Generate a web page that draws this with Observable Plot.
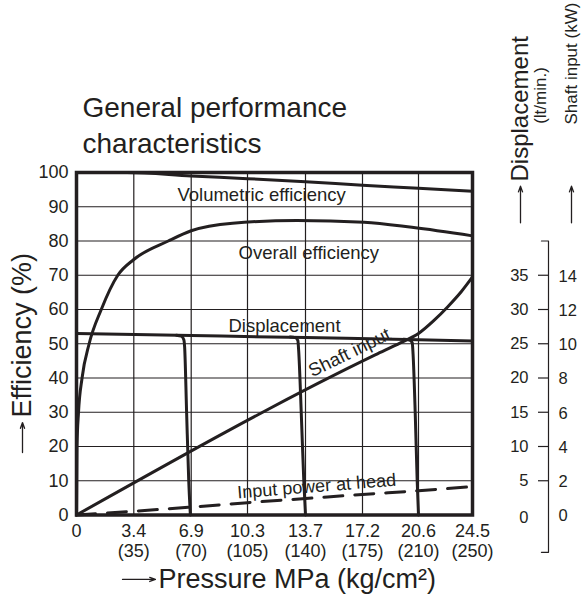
<!DOCTYPE html>
<html>
<head>
<meta charset="utf-8">
<script src="https://cdn.jsdelivr.net/npm/d3@7"></script>
<script src="https://cdn.jsdelivr.net/npm/@observablehq/plot@0.6"></script>
<style>
  html, body { margin: 0; padding: 0; background: #fff; }
  #chart svg { display: block; }
</style>
</head>
<body>
<div id="chart"></div>
<script>
// ---- tick labels ----
const pressureTicks = [0, 3.4, 6.9, 10.3, 13.7, 17.2, 20.6, 24.5];      // MPa
const pressureKgTicks = [0, 35, 70, 105, 140, 175, 210, 250];          // kg/cm²
const efficiencyTicks = [0, 10, 20, 30, 40, 50, 60, 70, 80, 90, 100];  // %
const displacementTicks = [0, 5, 10, 15, 20, 25, 30, 35];              // lt/min
const shaftInputTicks = [0, 2, 4, 6, 8, 10, 12, 14];                   // kW

// ---- series: [pressure MPa, value] ----
const volumetricEff = [[0,100],[3,100],[6.9,99],[10.3,98.2],[13.7,97.3],[17.2,96.3],[20.6,95.4],[24.5,94.5]]; // %
const overallEff = [[0,0],[0.03,20],[0.12,30],[0.33,40],[0.75,50],[1.47,60],[2.45,70],[3.4,74.6],[5.5,80],[6.9,83],[9.4,85.2],[13.2,86],[17.3,85.5],[20.2,84],[24.5,81.5]]; // %
const displacementMain = [[0,26.5],[6.9,26.2],[13.7,25.9],[20.6,25.6],[24.5,25.4]]; // lt/min
const cutoff1 = [[6.0,26.25],[6.3,26.1],[6.45,25.6],[6.5,24.5],[6.62,15],[6.75,5],[6.85,0]]; // lt/min
const cutoff2 = [[12.8,26],[13.1,25.9],[13.25,25.5],[13.3,24],[13.45,15],[13.6,5],[13.7,0]];  // lt/min
const cutoff3 = [[19.7,25.65],[20.05,25.55],[20.22,25.15],[20.27,23.5],[20.4,15],[20.52,5],[20.6,0]]; // lt/min
const shaftInput = [[0,0],[18,9.36],[19.5,10.05],[20.6,10.6],[21.7,11.35],[22.7,12.15],[23.7,13.05],[24.5,13.9]]; // kW
const inputPowerHead = [[0,0],[3.4,0.22],[6.9,0.46],[10.3,0.72],[13.7,0.96],[17.2,1.2],[20.6,1.42],[24.5,1.66]]; // kW

// secondary axes share the efficiency scale: 5 lt/min = 10 %, 2 kW = 10 %
const PCT_PER_LPM = 2;
const PCT_PER_KW = 5;

const ink = "#231f20";
const font = "'Liberation Sans', Arial, Helvetica, sans-serif";
const kgOf = new Map(pressureTicks.map((p, i) => [p, pressureKgTicks[i]]));

const curveOpts = {x: d => d[0], stroke: ink, strokeWidth: 3, curve: "monotone-x"};
const arrowOpts = {stroke: ink, strokeWidth: 1.3, headLength: 7, headAngle: 40};

const chart = Plot.plot({
  width: 583,
  height: 601,
  marginTop: 172,
  marginBottom: 86.5,
  marginLeft: 76,
  marginRight: 111,
  style: {fontFamily: font, color: ink, background: "#fff", overflow: "visible"},
  x: {type: "linear", domain: pressureTicks, range: [76, 133.3, 190.7, 247, 305, 362, 418, 472]},
  y: {domain: [0, 100], range: [514.5, 172]},
  marks: [
    Plot.gridX(pressureTicks.slice(1, -1), {stroke: ink, strokeOpacity: 1, strokeWidth: 1.2}),
    Plot.gridY(efficiencyTicks.slice(1, -1), {stroke: ink, strokeOpacity: 1, strokeWidth: 1.2}),

    // main axes
    Plot.axisX(pressureTicks, {tickSize: 0, tickPadding: 8, fontSize: 18, lineHeight: 1.11, label: null,
      tickFormat: d => d === 0 ? "0" : `${d}\n(${kgOf.get(d)})`}),
    Plot.axisY(efficiencyTicks, {tickSize: 0, tickPadding: 8, fontSize: 18, label: null}),

    // right-hand displacement axis (ticks to the left of the bracket)
    Plot.axisY(displacementTicks.slice(1).map(v => v * PCT_PER_LPM), {anchor: "left", dx: 472, tickSize: 10, tickPadding: 10,
      fontSize: 16.5, strokeWidth: 1.2, label: null, tickFormat: d => d / PCT_PER_LPM}),
    Plot.axisY([displacementTicks[0] * PCT_PER_LPM], {anchor: "left", dx: 472, dy: 3, tickSize: 0, tickPadding: 20,
      fontSize: 16.5, label: null, tickFormat: d => d / PCT_PER_LPM}),
    // right-hand shaft input axis (labels right of the bracket)
    Plot.axisY(shaftInputTicks.map(v => v * PCT_PER_KW), {anchor: "right", dx: 76, dy: 1, tickSize: 0, tickPadding: 10,
      fontSize: 16.5, label: null, tickFormat: d => d / PCT_PER_KW}),
    // bracket of the right-hand scales
    Plot.line([[-0.42, 80], [0, 80], [0, -10.9], [-0.42, -10.9]], {x: d => d[0], y: d => d[1], dx: 472, stroke: ink, strokeWidth: 1.2}),

    Plot.frame({stroke: ink, strokeWidth: 3.5}),

    // curves
    Plot.line(volumetricEff, {...curveOpts, y: d => d[1]}),
    Plot.line(overallEff, {...curveOpts, y: d => d[1]}),
    Plot.line(displacementMain, {...curveOpts, y: d => d[1] * PCT_PER_LPM}),
    Plot.line(cutoff1, {...curveOpts, y: d => d[1] * PCT_PER_LPM}),
    Plot.line(cutoff2, {...curveOpts, y: d => d[1] * PCT_PER_LPM}),
    Plot.line(cutoff3, {...curveOpts, y: d => d[1] * PCT_PER_LPM}),
    Plot.line(shaftInput, {...curveOpts, y: d => d[1] * PCT_PER_KW}),
    Plot.line(inputPowerHead, {...curveOpts, y: d => d[1] * PCT_PER_KW, strokeDasharray: "19,12"}),

    // curve labels
    Plot.text(["Volumetric efficiency"], {x: 6.06, y: 91.7, text: d => d, textAnchor: "start", lineAnchor: "bottom", fontSize: 18.5, fill: ink}),
    Plot.text(["Overall efficiency"], {x: 9.76, y: 74.8, text: d => d, textAnchor: "start", lineAnchor: "bottom", fontSize: 18.5, fill: ink}),
    Plot.text(["Displacement"], {x: 9.15, y: 53.5, text: d => d, textAnchor: "start", lineAnchor: "bottom", fontSize: 18.5, fill: ink}),
    Plot.text(["Shaft input"], {x: 16.4, y: 47.4, text: d => d, rotate: -26, fontSize: 18.5, fill: ink}),
    Plot.text(["Input power at head"], {x: 14.41, y: 6.71, text: d => d, rotate: -4.6, lineAnchor: "bottom", fontSize: 18, fill: ink}),

    // chart title
    Plot.text(["General performance\ncharacteristics"], {frameAnchor: "top-left", dx: 6, dy: -20, text: d => d,
      textAnchor: "start", lineAnchor: "bottom", fontSize: 28, lineHeight: 1.286, fill: ink}),

    // axis titles with their arrows
    Plot.text(["Efficiency (%)"], {frameAnchor: "left", dx: -54, dy: 73.75, text: d => d, rotate: -90,
      textAnchor: "start", lineAnchor: "middle", fontSize: 27, fill: ink}),
    Plot.arrow([0], {x1: 0, x2: 0, y1: 18.23, y2: 26.98, dx: -54, ...arrowOpts}),
    Plot.text(["Pressure MPa (kg/cm\u00b2)"], {frameAnchor: "bottom-left", dx: 82, dy: 72.5, text: d => d,
      textAnchor: "start", lineAnchor: "bottom", fontSize: 27, fill: ink}),
    Plot.arrow([0], {x1: 2.73, x2: 4.72, y1: -18.8, y2: -18.8, ...arrowOpts}),

    // right-hand scale titles with their arrows
    Plot.text(["Displacement"], {frameAnchor: "top-right", dx: 48, dy: 9, text: d => d, rotate: -90,
      textAnchor: "start", lineAnchor: "middle", fontSize: 24, fill: ink}),
    Plot.text(["(lt/min.)"], {frameAnchor: "top-right", dx: 68, dy: -77, text: d => d, rotate: -90,
      textAnchor: "middle", lineAnchor: "middle", fontSize: 17, fill: ink}),
    Plot.text(["Shaft input (kW)"], {frameAnchor: "top-right", dx: 99, dy: -48, text: d => d, rotate: -90,
      textAnchor: "start", lineAnchor: "middle", fontSize: 17, fill: ink}),
    Plot.arrow([0], {x1: 24.5, x2: 24.5, y1: 85.3, y2: 96.0, dx: 48, ...arrowOpts}),
    Plot.arrow([0], {x1: 24.5, x2: 24.5, y1: 85.3, y2: 96.0, dx: 99, ...arrowOpts})
  ]
});

document.getElementById("chart").appendChild(chart);
</script>
</body>
</html>
